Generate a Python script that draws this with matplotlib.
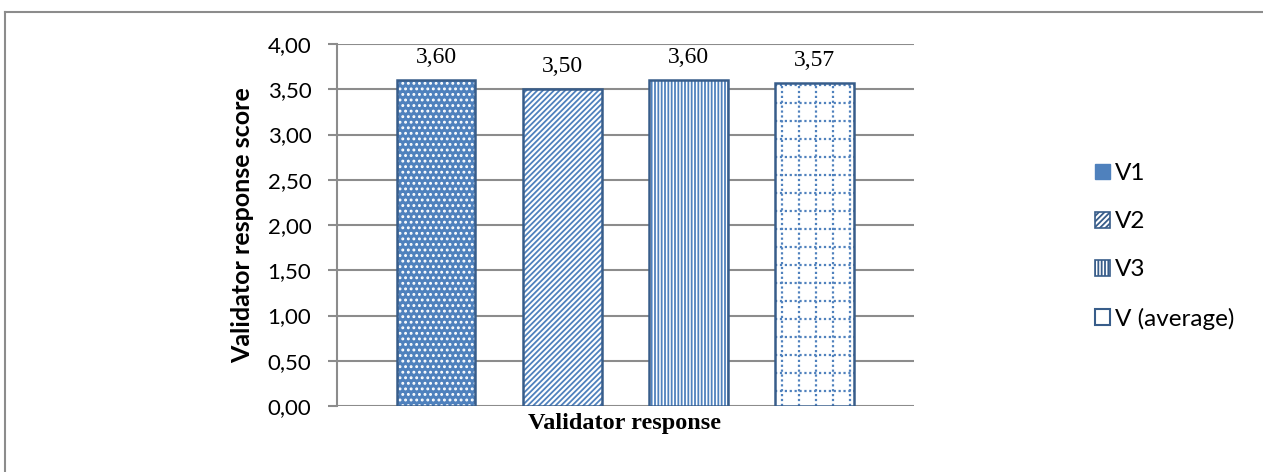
import matplotlib
matplotlib.use("Agg")
import numpy as np
import matplotlib.pyplot as plt
from matplotlib.lines import Line2D
from matplotlib.patches import Patch

series = ["V1", "V2", "V3", "V (average)"]
values = [3.60, 3.50, 3.60, 3.57]
value_labels = ["3,60", "3,50", "3,60", "3,57"]
yticks = [0.0, 0.5, 1.0, 1.5, 2.0, 2.5, 3.0, 3.5, 4.0]
ytick_labels = ["0,00", "0,50", "1,00", "1,50", "2,00", "2,50", "3,00", "3,50", "4,00"]
xlabel = "Validator response"
ylabel = "Validator response score"

blue = "#4F81BD"
edge = "#385D8A"
W, H = 1263, 472
fig = plt.figure(figsize=(W / 100, H / 100), dpi=100)
fig.patch.set_facecolor("white")
plt.rcParams["hatch.linewidth"] = 1.3

L, R, T, B = 337, 914, 44, 406
ax = fig.add_axes([L / W, 1 - B / H, (R - L) / W, (B - T) / H])
px_x = 3.785 + 0.784  # data units across axes width
dx_per_px = px_x / (R - L)
dy_per_px = 4.0 / (B - T)

# outer chart border (top and left visible)
fig.add_artist(Line2D([5 / W, 1], [1 - 12 / H, 1 - 12 / H], transform=fig.transFigure, color="#8c8c8c", lw=1.5))
fig.add_artist(Line2D([5 / W, 5 / W], [0, 1 - 12 / H], transform=fig.transFigure, color="#8c8c8c", lw=1.5))

styles = [
    dict(face=blue, hatchcol="white", hatch="..."),
    dict(face="white", hatchcol=blue, hatch="//////"),
    dict(face="white", hatchcol=blue, hatch="|||||"),
    dict(face="white", hatchcol=blue, hatch=None),
]
x = list(range(len(values)))
width = 0.625
for i, (v, st) in enumerate(zip(values, styles)):
    ax.bar(x[i], v, width=width, color=st["face"], edgecolor=st["hatchcol"], hatch=st["hatch"], linewidth=0, zorder=3)
    b = ax.bar(x[i], v, width=width, fill=False, edgecolor=edge, linewidth=1.8, zorder=5)
    ax.text(x[i], v + 17 * dy_per_px, value_labels[i], ha="center", va="baseline", fontsize=17,
            family="Liberation Serif")
    if st["hatch"] is None:
        # dotted grid pattern inside the bar, derived from the bar geometry
        patch = b.patches[0]
        x0, x1 = x[i] - width / 2, x[i] + width / 2
        step_x = 17 * dx_per_px
        step_y = 18 * dy_per_px
        for gx in np.arange(x0 + 7 * dx_per_px, x1, step_x):
            ln, = ax.plot([gx, gx], [0, v], color="#4F81BD", lw=1.6, ls=(0, (1, 1.2)), zorder=4)
            ln.set_clip_path(patch)
        for gy in np.arange(v - 2 * dy_per_px, 0, -step_y):
            ln, = ax.plot([x0, x1], [gy, gy], color="#4F81BD", lw=1.6, ls=(0, (1, 1.2)), zorder=4)
            ln.set_clip_path(patch)

ax.set_xlim(-0.784, 3.785)
ax.set_ylim(0, 4)
ax.set_yticks(yticks)
ax.set_yticklabels(ytick_labels, fontsize=16, family="Lato")
ax.set_xticks([])
ax.grid(axis="y", color="#8c8c8c", lw=1.5, zorder=0)
for s in ["top", "right", "bottom"]:
    ax.spines[s].set_visible(False)
ax.spines["left"].set_color("#8c8c8c")
ax.spines["left"].set_linewidth(1.5)
ax.tick_params(axis="y", length=6.5, width=1.5, color="#8c8c8c", direction="out", pad=12)
ax.tick_params(axis="x", length=0)

fig.text(243 / W, 1 - 225 / H, ylabel, rotation=90, ha="center", va="center", fontsize=18,
         fontweight="bold", family="Lato")
fig.text(625 / W, 1 - 424 / H, xlabel, ha="center", va="center", fontsize=17.5, fontweight="bold",
         family="Liberation Serif")

proxies = [Patch(facecolor=blue, edgecolor=blue)]
for st in styles[1:3]:
    proxies.append(Patch(facecolor="white", edgecolor=edge, hatch=st["hatch"], linewidth=1.2))
proxies.append(Patch(facecolor="white", edgecolor=edge, hatch=":", linewidth=1.5))
leg = fig.legend(proxies, series, loc="upper left", bbox_to_anchor=(1095 / W, 1 - 163 / H),
                 frameon=False, prop={"family": "Lato", "size": 17.5}, borderpad=0, borderaxespad=0,
                 handlelength=0.62, handleheight=0.62, handletextpad=0.2, labelspacing=1.12)
fig.savefig("out.png", dpi=100)
